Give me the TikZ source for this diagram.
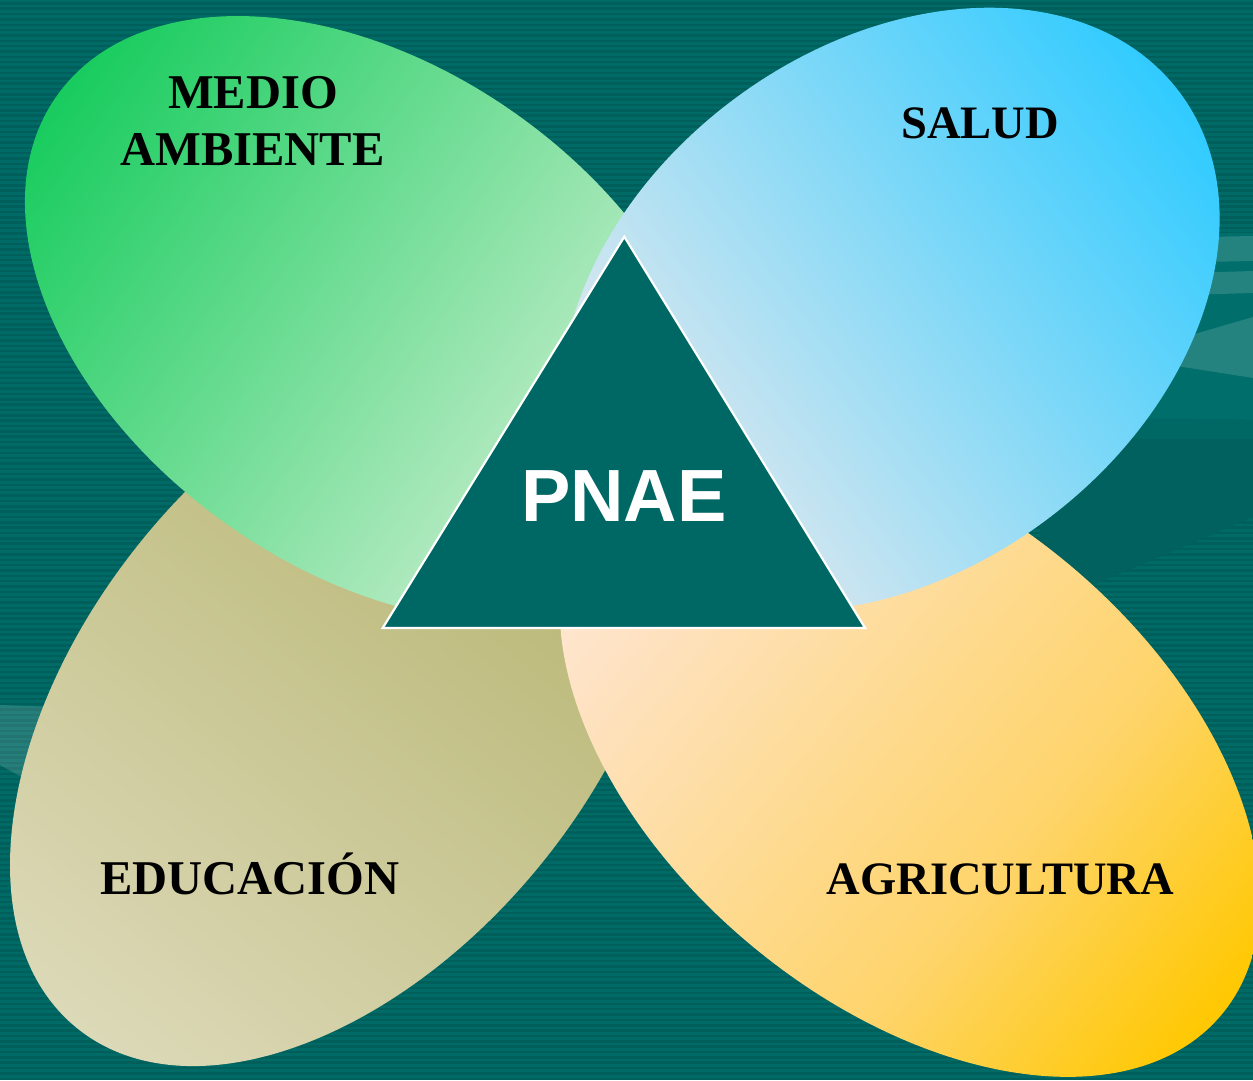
\documentclass[tikz,border=0pt]{standalone}
\usepackage{fontspec}
\setmainfont{Liberation Serif}
\newfontfamily\pnaefont{Liberation Sans}
\definecolor{bgteal}{HTML}{006A66}
\definecolor{bgstripe}{HTML}{005E5B}
\definecolor{plainteal}{HTML}{006E6A}
\definecolor{midwave}{HTML}{006864}
\definecolor{darkwave}{HTML}{00615E}
\definecolor{tri}{HTML}{006864}
\definecolor{gA}{HTML}{18CC5E}
\definecolor{gB}{HTML}{E2F3DE}
\definecolor{bA}{HTML}{E4EBEE}
\definecolor{bB}{HTML}{CDE5F0}
\definecolor{bC}{HTML}{30CBFF}
\definecolor{oA}{HTML}{DCD9B8}
\definecolor{oB}{HTML}{B2B067}
\definecolor{yA}{HTML}{FFEAD6}
\definecolor{yB}{HTML}{FEE3C6}
\definecolor{yC}{HTML}{FED46A}
\definecolor{yD}{HTML}{FFC800}
\pgfdeclarehorizontalshading{greenS}{100bp}{color(0bp)=(gA); color(25bp)=(gA); color(75bp)=(gB); color(100bp)=(gB)}
\pgfdeclarehorizontalshading{blueS}{100bp}{color(0bp)=(bA); color(25bp)=(bA); color(35bp)=(bB); color(75bp)=(bC); color(100bp)=(bC)}
\pgfdeclarehorizontalshading{oliveS}{100bp}{color(0bp)=(oA); color(25bp)=(oA); color(75bp)=(oB); color(100bp)=(oB)}
\pgfdeclarehorizontalshading{orangeS}{100bp}{color(0bp)=(yA); color(25bp)=(yA); color(31.25bp)=(yB); color(59bp)=(yC); color(75bp)=(yD); color(100bp)=(yD)}
\begin{document}
\begin{tikzpicture}[x=1pt,y=1pt,
  lbl/.style={inner sep=0pt, outer sep=0pt, text=black, anchor=base},
  bigL/.style={lbl, font=\bfseries\fontsize{48.5}{50}\selectfont},
  bigR/.style={lbl, font=\bfseries\fontsize{46.5}{50}\selectfont},
  pnaestyle/.style={inner sep=0pt, outer sep=0pt, text=white, anchor=base,
     font=\pnaefont\bfseries\fontsize{74}{80}\selectfont},
  lightwave/.style={fill=white, fill opacity=0.14},
  tristyle/.style={fill=tri, draw=white, line width=2.2pt, line join=miter}]
\useasboundingbox (0,0) rectangle (1253,1080);
\clip (0,0) rectangle (1253,1080);
% background
\fill[bgteal] (0,0) rectangle (1253,1080);
\foreach \i in {0,...,202} {
  \fill[bgstripe] (0,{\i*5.35}) rectangle (1253,{\i*5.35+2.5});
}
% background waves (right)
\fill[plainteal] (1080,847) -- (1253,847) -- (1253,660) .. controls (1190,662) and (1130,658) .. (1080,655) -- cycle;
\fill[midwave] (1040,660) .. controls (1120,662) and (1190,662) .. (1253,660)
   -- (1253,640) -- (1040,640) -- cycle;
\fill[darkwave] (1040,642) .. controls (1120,642) and (1190,640) .. (1253,641)
   -- (1253,563) .. controls (1200,540) and (1140,515) .. (1097,497)
   .. controls (1075,490) and (1055,484) .. (1040,480) -- cycle;
\fill[lightwave] (1150,842) -- (1253,844) -- (1253,819) -- (1150,817) -- cycle;
\fill[lightwave] (1150,806) -- (1253,809) -- (1253,787) -- (1150,784) -- cycle;
\fill[lightwave] (1150,733) -- (1253,763) -- (1253,702) -- (1183,713) -- (1150,719) -- cycle;
% background wave (left)
\fill[lightwave] (0,375) -- (80,372) -- (80,290) -- (18,305) -- (0,315) -- cycle;
% petals: olive, orange, green, blue
\begin{scope}[transform canvas={shift={(341.6,378)}, rotate=50.9}]
  \shade[shading=oliveS] (0,0) ellipse [x radius=420, y radius=257];
\end{scope}
\begin{scope}[transform canvas={shift={(909.8,325.4)}, rotate=-39.8}]
  \shade[shading=orangeS] (0,0) ellipse [x radius=406, y radius=248];
\end{scope}
\begin{scope}[transform canvas={shift={(371.4,761)}, rotate=-35.4}]
  \shade[shading=greenS] (0,0) ellipse [x radius=385.7, y radius=251];
\end{scope}
\begin{scope}[transform canvas={shift={(890.1,770.4)}, rotate=36.9}]
  \shade[shading=blueS] (0,0) ellipse [x radius=362, y radius=262];
\end{scope}
% central triangle
\coordinate (apex) at (624.3,843.3);
\coordinate (bl) at (382.7,452);
\coordinate (br) at (865.1,452);
\path[tristyle] (apex) -- (br) -- (bl) -- cycle;
% labels
\node[bigL] (medio) at (253,971) {MEDIO};
\node[bigL] (ambiente) at (252.5,914) {AMBIENTE};
\node[bigR] (salud) at (980,941) {SALUD};
\node[bigL] (educacion) at (250,186) {EDUCACIÓN};
\node[bigR] (agricultura) at (1000.5,186) {AGRICULTURA};
\node[pnaestyle] (pnae) at (624,558) {PNAE};
\end{tikzpicture}
\end{document}
